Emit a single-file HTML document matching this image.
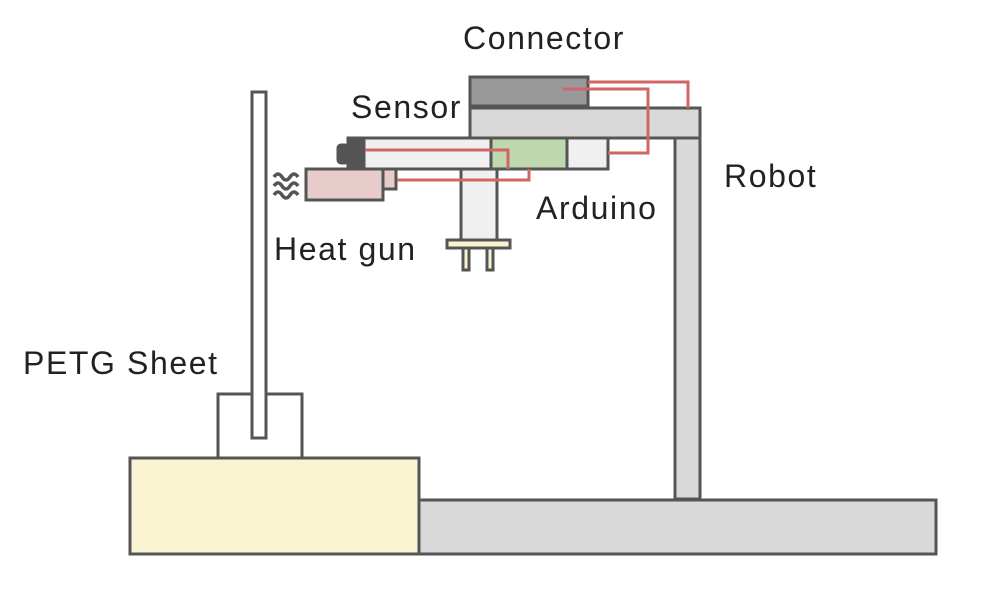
<!DOCTYPE html>
<html><head><meta charset="utf-8"><style>
html,body{margin:0;padding:0;background:#fff;}
svg{display:block;}
text{font-family:"Liberation Sans",sans-serif;font-size:32px;letter-spacing:1.6px;fill:#222;}
</style></head><body>
<svg width="992" height="596" viewBox="0 0 992 596" xmlns="http://www.w3.org/2000/svg">
<g stroke="#555" stroke-width="3">
<rect x="419" y="500" width="517" height="54" fill="#d9d9d9"/>
<rect x="130" y="458" width="289" height="96" fill="#faf3d2"/>
<rect x="218" y="394" width="84" height="64" fill="#fff"/>
<rect x="252" y="92" width="14" height="346" fill="#fff"/>
<rect x="675" y="138" width="25" height="361" fill="#d9d9d9"/>
<rect x="470" y="108" width="230" height="30" fill="#d9d9d9"/>
<rect x="470" y="77" width="118" height="29" fill="#999"/>
<rect x="461" y="169" width="36" height="72" fill="#f0f0f0"/>
<rect x="463" y="248" width="6" height="22" fill="#faf3d2"/>
<rect x="487" y="248" width="6" height="22" fill="#faf3d2"/>
<rect x="447" y="240" width="63" height="8" fill="#faf3d2"/>
<rect x="364" y="138" width="244" height="31" fill="#f0f0f0"/>
<rect x="491" y="138" width="76" height="31" fill="#c0d8ad"/>
<rect x="348" y="138" width="16" height="31" fill="#555"/>
<rect x="338" y="145" width="10" height="18" rx="3" fill="#555"/>
<rect x="383" y="169" width="13" height="20" fill="#e8cccc"/>
<rect x="306" y="169" width="77" height="31" fill="#e8cccc"/>
</g>
<g fill="none" stroke="#d06666" stroke-width="3">
<polyline points="365,150 508,150 508,169"/>
<polyline points="397,180 529,180 529,169"/>
<polyline points="608,153 648,153 648,89 563,89"/>
<polyline points="588,82 688,82 688,108"/>
</g>
<g fill="none" stroke="#555" stroke-width="3.5">
<path d="M274,177 q4,-6 8,0 t8,0 t8,0"/>
<path d="M274,186 q4,-6 8,0 t8,0 t8,0"/>
<path d="M274,195 q4,-6 8,0 t8,0 t8,0"/>
</g>
<text x="463" y="49">Connector</text>
<text x="351" y="118">Sensor</text>
<text x="724" y="187">Robot</text>
<text x="536" y="219">Arduino</text>
<text x="274" y="260">Heat gun</text>
<text x="23" y="374">PETG Sheet</text>
</svg>
</body></html>
